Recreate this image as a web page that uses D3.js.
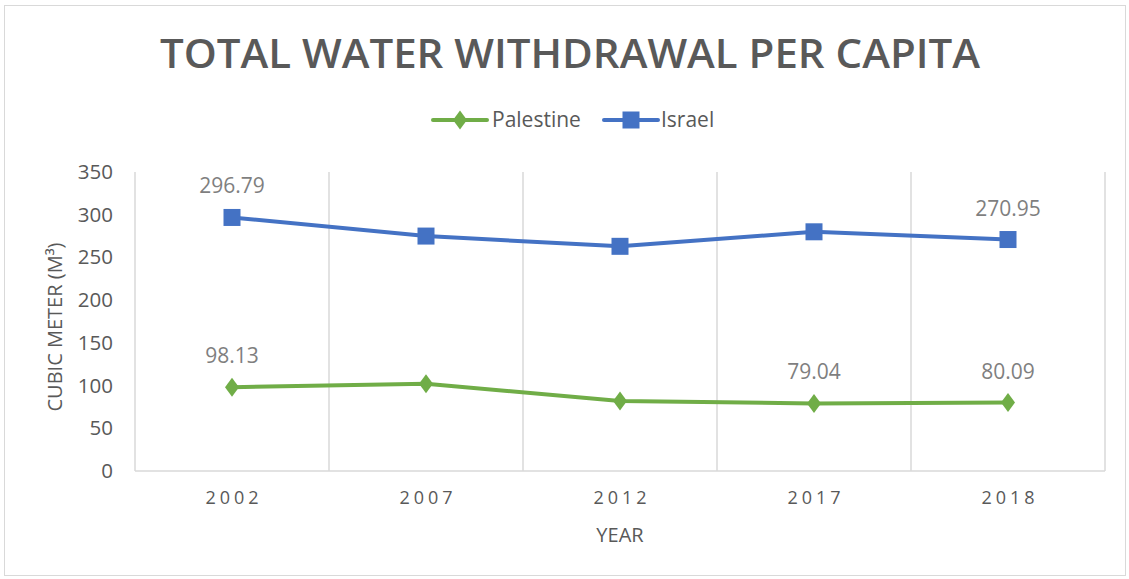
<!DOCTYPE html>
<html><head><meta charset="utf-8">
<script src="https://cdn.jsdelivr.net/npm/d3@7"></script>
<style>body{margin:0;background:#fff}svg{display:block}text{font-family:"Open Sans",sans-serif}</style>
</head><body>
<svg id="c" width="1129" height="579"></svg>
<script>
const years = ["2002","2007","2012","2017","2018"];
const palestine = [98.13, 102, 82, 79.04, 80.09];
const israel = [296.79, 275, 263, 280, 270.95];
const yTicks = [0,50,100,150,200,250,300,350];
const palestineLabels = [true,false,false,true,true];
const israelLabels = [true,false,false,false,true];

const svg = d3.select("#c");
svg.append("rect").attr("x",4.5).attr("y",5.5).attr("width",1121).attr("height",570)
  .attr("fill","#fff").attr("stroke","#d9d9d9");

const m = {l:135, r:1105, t:172, b:471};
const x = d3.scaleBand().domain(years).range([m.l,m.r]);
const y = d3.scaleLinear().domain([0,350]).range([m.b,m.t]);
const cx = d => x(d)+x.bandwidth()/2;

const bounds = years.map(d=>x(d)).concat([m.r]);
svg.append("g").selectAll("line").data(bounds).join("line")
  .attr("x1",d=>d).attr("x2",d=>d).attr("y1",m.t).attr("y2",m.b)
  .attr("stroke","#d9d9d9").attr("stroke-width",1.5);
svg.append("line").attr("x1",m.l).attr("x2",m.r).attr("y1",m.b).attr("y2",m.b)
  .attr("stroke","#d9d9d9").attr("stroke-width",1.5);

const ya = svg.append("g").attr("transform",`translate(${m.l},0)`)
  .call(d3.axisLeft(y).tickValues(yTicks).tickSize(0).tickPadding(22));
ya.select(".domain").remove();
ya.selectAll("text").attr("font-size",20.5).attr("fill","#595959").attr("font-family","Open Sans");

const xa = svg.append("g").attr("transform",`translate(0,${m.b})`)
  .call(d3.axisBottom(x).tickSize(0).tickPadding(20));
xa.select(".domain").remove();
xa.selectAll("text").attr("font-size",18).attr("fill","#595959").attr("letter-spacing","4px")
  .attr("dx","2px").attr("font-family","Open Sans");

svg.append("text").attr("x",570).attr("y",68).attr("text-anchor","middle")
  .attr("font-size",40).attr("font-weight","600").attr("fill","#595959")
  .attr("textLength",820).attr("lengthAdjust","spacingAndGlyphs")
  .text("TOTAL WATER WITHDRAWAL PER CAPITA");
svg.append("text").attr("x",620).attr("y",542).attr("text-anchor","middle")
  .attr("font-size",20).attr("fill","#595959").text("YEAR");
svg.append("text").attr("transform","translate(62,327) rotate(-90)").attr("text-anchor","middle")
  .attr("font-size",20).attr("fill","#595959").text("CUBIC METER (M³)");

const series = [
  {name:"Palestine", vals:palestine, color:"#70ad47", labels:palestineLabels},
  {name:"Israel", vals:israel, color:"#4472c4", labels:israelLabels}
];
const line = d3.line().x((d,i)=>cx(years[i])).y(d=>y(d));

function marker(g, s, px, py){
  if (s.name==="Israel"){
    g.append("rect").attr("x",px-8.5).attr("y",py-8.5).attr("width",17).attr("height",17).attr("fill",s.color);
  } else {
    g.append("path").attr("d",`M${px},${py-9.5}L${px+7},${py}L${px},${py+9.5}L${px-7},${py}Z`).attr("fill",s.color);
  }
}

series.forEach(s=>{
  svg.append("path").datum(s.vals).attr("d",line).attr("fill","none")
    .attr("stroke",s.color).attr("stroke-width",4).attr("stroke-linejoin","round");
  const g = svg.append("g");
  s.vals.forEach((v,i)=>marker(g,s,cx(years[i]),y(v)));
  svg.append("g").selectAll("text").data(s.vals.map((v,i)=>({v,i})).filter(d=>s.labels[d.i])).join("text")
    .attr("x",d=>cx(years[d.i])).attr("y",d=>y(d.v)-24).attr("text-anchor","middle")
    .attr("font-size",21).attr("fill","#7f7f7f").text(d=>d.v.toFixed(2));
});

const legend = [{s:series[0], x0:433, tx:492},{s:series[1], x0:604, tx:661}];
legend.forEach(L=>{
  svg.append("line").attr("x1",L.x0).attr("x2",L.x0+54).attr("y1",120).attr("y2",120)
    .attr("stroke",L.s.color).attr("stroke-width",4).attr("stroke-linecap","round");
  marker(svg, L.s, L.x0+27, 120);
  svg.append("text").attr("x",L.tx).attr("y",127).attr("font-size",21).attr("fill","#595959").text(L.s.name);
});
</script>
</body></html>
